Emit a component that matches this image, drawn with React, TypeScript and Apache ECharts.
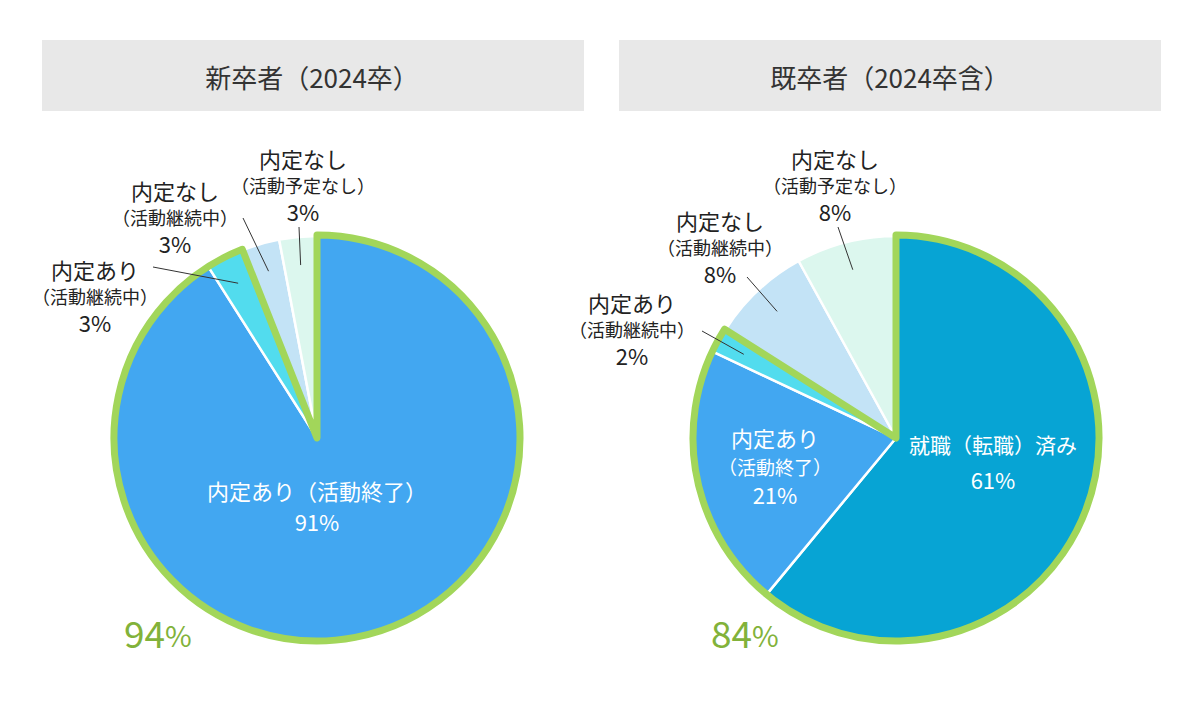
import React, { useEffect, useRef } from 'react';
import * as echarts from 'echarts';

// ---- data ----
const leftTitle = '新卒者（2024卒）';
const rightTitle = '既卒者（2024卒含）';
const leftNames = ['内定あり（活動終了）', '内定あり（活動継続中）', '内定なし（活動継続中）', '内定なし（活動予定なし）'];
const leftValues = [91, 3, 3, 3];
const leftOutlinedCount = 2;
const rightNames = ['就職（転職）済み', '内定あり（活動終了）', '内定あり（活動継続中）', '内定なし（活動継続中）', '内定なし（活動予定なし）'];
const rightValues = [61, 21, 2, 8, 8];
const rightOutlinedCount = 3;

// ---- styles ----
const FONT = '"Noto Sans CJK JP", "Noto Sans", sans-serif';
const W = 'normal';
const leftColors = ['#42a7f1', '#52dcee', '#c3e3f6', '#dcf7ee'];
const rightColors = ['#07a4d4', '#42a7f1', '#52dcee', '#c3e3f6', '#dcf7ee'];
const GREEN = '#a2d65a';
const GREEN_TEXT = '#82b23a';
const R = 202;
const leftCenter = [317, 438];
const rightCenter = [896, 438];

type Cfg = { mode: string; x: number; y: number; lx?: number; ly?: number };
const leftLabelCfg: Cfg[] = [
  { mode: 'inline', x: 317, y: 505 },
  { mode: 'split', x: 95, y: 295, lx: 153, ly: 267 },
  { mode: 'split', x: 175, y: 216, lx: 243, ly: 218 },
  { mode: 'split', x: 303, y: 184, lx: 299, ly: 227 },
];
const rightLabelCfg: Cfg[] = [
  { mode: 'inlineWide', x: 993, y: 461 },
  { mode: 'inside3', x: 775, y: 465 },
  { mode: 'split', x: 632, y: 328, lx: 702, ly: 331 },
  { mode: 'split', x: 720, y: 246, lx: 747, ly: 277 },
  { mode: 'split', x: 835, y: 184, lx: 838, ly: 227 },
];

const sum = (a: number[]) => a.reduce((s, v) => s + v, 0);

function innerPoint(values: number[], i: number, center: number[], rr: number) {
  const total = sum(values);
  const cum = sum(values.slice(0, i)) + values[i] / 2;
  const th = (cum / total) * Math.PI * 2;
  return [center[0] + rr * Math.sin(th), center[1] - rr * Math.cos(th)];
}

function splitName(name: string) {
  const k = name.indexOf('（');
  return [name.slice(0, k), name.slice(k)];
}

const outsideRich = {
  a: { fontSize: 22, lineHeight: 27, color: '#222', fontFamily: FONT, fontWeight: W },
  b: { fontSize: 18, lineHeight: 27, color: '#222', fontFamily: FONT, fontWeight: W },
  c: { fontSize: 22, lineHeight: 26, color: '#222', fontFamily: FONT, fontWeight: W },
};

function buildData(names: string[], values: number[], colors: string[], cfgs: Cfg[]) {
  return names.map((name, i) => {
    const cfg = cfgs[i];
    const pct = values[i] + '%';
    let label: any;
    if (cfg.mode === 'inline') {
      label = {
        position: 'inside',
        formatter: `{a|${name}}\n{c|${pct}}`,
        rich: {
          a: { fontSize: 22, lineHeight: 31, color: '#fff', fontFamily: FONT, fontWeight: W },
          c: { fontSize: 22, lineHeight: 31, color: '#fff', fontFamily: FONT, fontWeight: W },
        },
      };
    } else if (cfg.mode === 'inlineWide') {
      label = {
        position: 'inside',
        formatter: `{a|${name}}\n{c|${pct}}`,
        rich: {
          a: { fontSize: 21, lineHeight: 35, color: '#fff', fontFamily: FONT, fontWeight: W },
          c: { fontSize: 22, lineHeight: 35, color: '#fff', fontFamily: FONT, fontWeight: W },
        },
      };
    } else if (cfg.mode === 'inside3') {
      const [m, s] = splitName(name);
      label = {
        position: 'inside',
        formatter: `{a|${m}}\n{b|${s}}\n{c|${pct}}`,
        rich: {
          a: { fontSize: 22, lineHeight: 30, color: '#fff', fontFamily: FONT, fontWeight: W },
          b: { fontSize: 19, lineHeight: 28, color: '#fff', fontFamily: FONT, fontWeight: W },
          c: { fontSize: 22, lineHeight: 28, color: '#fff', fontFamily: FONT, fontWeight: W },
        },
      };
    } else {
      const [m, s] = splitName(name);
      label = {
        position: 'outside',
        formatter: `{a|${m}}\n{b|${s}}\n{c|${pct}}`,
        rich: outsideRich,
      };
    }
    return {
      name,
      value: values[i],
      itemStyle: { color: colors[i] },
      label,
    };
  });
}

function pieSeries(names: string[], values: number[], colors: string[], cfgs: Cfg[], center: number[]) {
  return {
    type: 'pie',
    center,
    radius: [0, R],
    startAngle: 90,
    clockwise: true,
    avoidLabelOverlap: false,
    silent: true,
    z: 2,
    itemStyle: { borderColor: '#fff', borderWidth: 2.5 },
    label: { show: true, fontFamily: FONT },
    labelLine: { show: false },
    labelLayout: (params: any) => {
      const cfg = cfgs[params.dataIndex];
      return { x: cfg.x, y: cfg.y, align: 'center', verticalAlign: 'middle' };
    },
    data: buildData(names, values, colors, cfgs),
  };
}

function outlineSeries(values: number[], count: number, center: number[]) {
  const inVal = sum(values.slice(0, count));
  const outVal = sum(values.slice(count));
  return {
    type: 'pie',
    center,
    radius: [0, R + 1],
    startAngle: 90,
    clockwise: true,
    silent: true,
    z: 3,
    label: { show: false },
    labelLine: { show: false },
    emphasis: { disabled: true },
    data: [
      { value: inVal, itemStyle: { color: 'rgba(0,0,0,0)', borderColor: GREEN, borderWidth: 7 } },
      { value: outVal, itemStyle: { color: 'rgba(0,0,0,0)', borderWidth: 0 } },
    ],
  };
}

function leaderLines(values: number[], cfgs: Cfg[], center: number[]) {
  const out: any[] = [];
  cfgs.forEach((cfg, i) => {
    if (cfg.lx == null) return;
    const p = innerPoint(values, i, center, R * 0.86);
    out.push({
      type: 'line',
      z: 10,
      silent: true,
      shape: { x1: cfg.lx, y1: cfg.ly, x2: p[0], y2: p[1] },
      style: { stroke: '#333', lineWidth: 1 },
    });
  });
  return out;
}

export default function App() {
  const ref = useRef<HTMLDivElement>(null);
  useEffect(() => {
    if (!ref.current) return;
    const chart = echarts.init(ref.current, null, { renderer: 'svg' });
    const leftPct = sum(leftValues.slice(0, leftOutlinedCount));
    const rightPct = sum(rightValues.slice(0, rightOutlinedCount));
    const bigRich = {
      n: { fontSize: 37, fill: GREEN_TEXT, fontFamily: FONT, verticalAlign: 'bottom', lineHeight: 44 },
      p: { fontSize: 29, fill: GREEN_TEXT, fontFamily: FONT, verticalAlign: 'bottom', lineHeight: 44, padding: [0, 0, 2, 0] },
    };
    chart.setOption({
      animation: false,
      backgroundColor: '#ffffff',
      graphic: [
        { type: 'rect', shape: { x: 42, y: 40, width: 542, height: 71 }, style: { fill: '#e8e8e8' }, z: 1 },
        { type: 'rect', shape: { x: 619, y: 40, width: 542, height: 71 }, style: { fill: '#e8e8e8' }, z: 1 },
        {
          type: 'text', x: 312, y: 76, z: 2,
          style: { text: leftTitle, fill: '#333', fontSize: 26, fontWeight: W, fontFamily: FONT, align: 'center', verticalAlign: 'middle' },
        },
        {
          type: 'text', x: 890, y: 76, z: 2,
          style: { text: rightTitle, fill: '#333', fontSize: 26, fontWeight: W, fontFamily: FONT, align: 'center', verticalAlign: 'middle' },
        },
        {
          type: 'text', x: 124, y: 628, z: 5,
          style: { text: `{n|${leftPct}}{p|%}`, rich: bigRich, align: 'left', verticalAlign: 'middle' },
        },
        {
          type: 'text', x: 711, y: 628, z: 5,
          style: { text: `{n|${rightPct}}{p|%}`, rich: bigRich, align: 'left', verticalAlign: 'middle' },
        },
        ...leaderLines(leftValues, leftLabelCfg, leftCenter),
        ...leaderLines(rightValues, rightLabelCfg, rightCenter),
      ],
      series: [
        pieSeries(leftNames, leftValues, leftColors, leftLabelCfg, leftCenter),
        outlineSeries(leftValues, leftOutlinedCount, leftCenter),
        pieSeries(rightNames, rightValues, rightColors, rightLabelCfg, rightCenter),
        outlineSeries(rightValues, rightOutlinedCount, rightCenter),
      ],
    });
    return () => chart.dispose();
  }, []);
  return (
    <div
      ref={ref}
      style={{ position: 'absolute', left: 0, top: 0, width: 1200, height: 712 }}
    />
  );
}
